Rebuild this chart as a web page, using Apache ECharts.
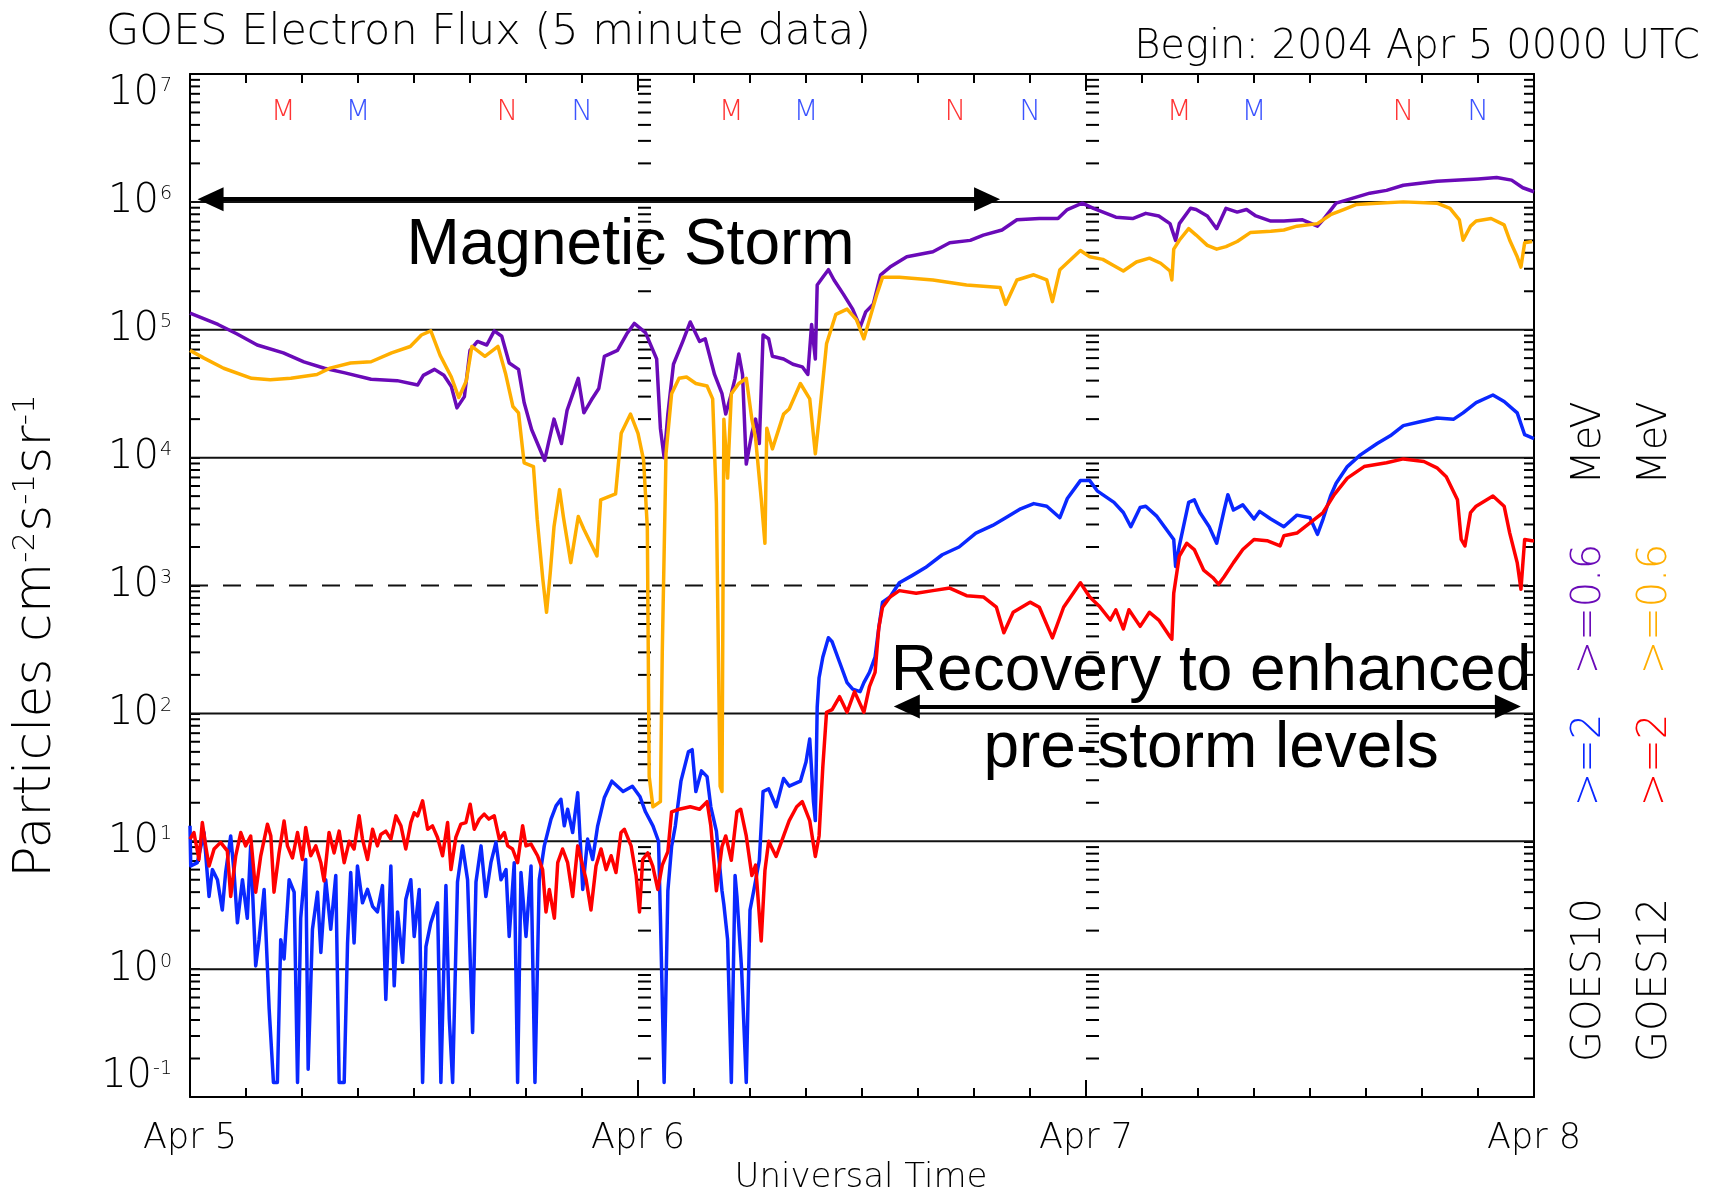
<!DOCTYPE html>
<html>
<head>
<meta charset="utf-8">
<title>GOES Electron Flux</title>
<script src="https://cdn.jsdelivr.net/npm/echarts@6/dist/echarts.min.js"></script>
<style>
  html, body { margin: 0; padding: 0; background: #ffffff; }
  #chart { width: 1714px; height: 1192px; }
</style>
</head>
<body>
<div id="chart"></div>
<script>
// ---- Data: [hours since 2004-04-05 00:00 UTC, particles cm^-2 s^-1 sr^-1] ----

// GOES10 >=2 MeV
const goes10Hi = [[0,13.2],[0.04,6.4],[0.39,6.8],[0.75,11.7],[1.02,3.7],[1.2,6.0],[1.47,5.0],[1.73,2.9],[1.91,5.7],[2.18,11.0],[2.36,5.7],[2.54,2.3],[2.81,5.0],[3.07,2.5],[3.25,9.2],[3.52,1.06],[3.7,1.7],[3.97,4.2],[4.24,0.49],[4.47,0.13],[4.68,0.13],[4.86,1.7],[5.04,1.2],[5.31,5.0],[5.58,4.0],[5.76,0.13],[5.93,2.5],[6.2,7.2],[6.33,0.165],[6.56,2.05],[6.83,4.0],[7.01,1.35],[7.27,5.0],[7.54,2.05],[7.81,5.4],[7.99,0.13],[8.26,0.13],[8.44,1.6],[8.61,5.7],[8.79,1.6],[8.97,6.4],[9.24,3.3],[9.51,4.2],[9.78,3.1],[10.04,2.8],[10.31,4.5],[10.49,0.58],[10.76,6.4],[10.94,0.74],[11.12,2.8],[11.39,1.13],[11.56,3.5],[11.83,5.0],[12.01,1.8],[12.28,4.2],[12.46,0.13],[12.64,1.5],[12.9,2.3],[13.26,3.3],[13.44,0.13],[13.71,4.5],[13.89,0.41],[14.07,0.13],[14.33,4.8],[14.6,9.2],[14.87,5.0],[15.14,0.32],[15.32,4.8],[15.59,9.2],[15.85,3.7],[16.12,6.8],[16.39,9.8],[16.66,5.0],[16.93,6.0],[17.1,1.8],[17.37,6.8],[17.55,0.13],[17.73,5.7],[18.0,1.8],[18.27,6.4],[18.48,0.13],[18.71,5.0],[18.98,9.2],[19.34,14.9],[19.61,18.9],[19.87,21.3],[20.05,13.2],[20.23,17.8],[20.5,11.7],[20.77,24],[21.04,4.2],[21.3,10.4],[21.57,7.2],[21.84,13.2],[22.2,22],[22.6,29.5],[23.2,24.5],[23.7,26.9],[24.1,22.4],[24.4,17],[24.8,13.2],[25.1,10],[25.2,2.6],[25.4,0.13],[25.6,4.1],[25.8,9.1],[26.0,13.2],[26.3,29.5],[26.7,50],[26.9,52],[27.1,24.5],[27.4,35.5],[27.7,32],[27.9,18.6],[28.2,12],[28.5,4.1],[28.6,3.2],[28.8,1.7],[29.0,0.13],[29.2,5.4],[29.3,3.7],[29.55,1.0],[29.8,0.13],[30.0,2.9],[30.2,4.1],[30.5,7.1],[30.7,24.5],[31.0,25.7],[31.4,18.6],[31.8,31],[32.1,27],[32.7,29.5],[33.0,41.7],[33.2,63],[33.4,20.4],[33.5,14.5],[33.6,112],[33.7,190],[33.9,275],[34.2,390],[34.4,363],[34.8,251],[35.2,174],[35.5,155],[35.9,148],[36.1,174],[36.4,209],[36.7,275],[36.9,468],[37.1,741],[37.5,813],[38.0,1050],[38.7,1200],[39.4,1380],[40.3,1740],[41.2,2000],[42.1,2570],[43.0,2950],[43.7,3390],[44.5,3980],[45.2,4370],[45.9,4170],[46.6,3390],[47.0,4790],[47.7,6610],[48.2,6610],[48.6,5500],[49.5,4470],[50.0,3720],[50.4,2880],[50.9,4070],[51.2,4170],[51.8,3470],[52.3,2750],[52.7,2290],[52.8,1410],[53.0,2040],[53.5,4470],[53.8,4680],[54.1,3720],[54.6,2880],[55.0,2140],[55.4,3890],[55.6,5130],[55.9,3890],[56.4,4270],[57.0,3310],[57.3,3800],[57.9,3310],[58.6,2880],[59.3,3550],[60.0,3390],[60.4,2510],[60.7,3310],[61.1,5010],[61.4,6310],[62.0,8510],[62.7,10500],[63.6,12900],[64.3,14800],[65.0,17800],[65.9,19100],[66.8,20400],[67.7,20000],[68.2,22400],[68.9,26900],[69.8,30900],[70.4,27500],[71.1,22400],[71.5,15100],[72,14100]];

// GOES12 >=2 MeV
const goes12Hi = [[0,10.4],[0.21,11.7],[0.48,7.2],[0.66,14.0],[0.84,9.2],[1.02,6.4],[1.29,8.7],[1.64,9.8],[2.0,8.4],[2.18,3.7],[2.45,7.7],[2.72,11.7],[2.98,9.2],[3.25,11.0],[3.52,4.0],[3.79,7.7],[4.15,13.6],[4.33,11.0],[4.5,4.0],[4.77,8.1],[5.04,14.4],[5.22,9.2],[5.49,7.4],[5.76,11.7],[6.02,7.2],[6.2,12.8],[6.47,7.7],[6.74,9.2],[7.01,6.8],[7.18,4.9],[7.45,11.7],[7.72,8.1],[7.99,12.0],[8.26,6.8],[8.53,10.0],[8.79,8.7],[9.06,15.8],[9.24,10.4],[9.51,7.2],[9.78,12.4],[10.04,9.2],[10.22,11.3],[10.49,12.0],[10.76,10.4],[11.03,15.8],[11.3,13.2],[11.56,8.7],[11.83,14.0],[12.01,16.7],[12.19,15.8],[12.46,20.7],[12.73,12.4],[12.99,13.2],[13.26,10.7],[13.53,7.7],[13.8,14.0],[13.98,6.0],[14.24,10.7],[14.51,13.6],[14.78,14.0],[15.01,19.5],[15.23,12.4],[15.5,14.9],[15.76,16.3],[16.01,14.9],[16.3,15.8],[16.57,10.4],[16.84,11.7],[17.02,9.2],[17.28,8.7],[17.55,6.8],[17.82,13.2],[18.0,9.2],[18.27,9.5],[18.62,7.7],[18.89,6.0],[19.07,2.8],[19.25,4.2],[19.52,2.5],[19.7,6.8],[19.96,8.7],[20.23,6.8],[20.5,3.7],[20.77,9.2],[21.04,6.4],[21.22,5.0],[21.48,2.9],[21.75,6.4],[22.02,8.7],[22.29,6.0],[22.56,7.7],[22.82,5.7],[23.09,11.7],[23.27,12.4],[23.63,9.2],[23.9,5.4],[24.08,2.8],[24.25,7.2],[24.52,8.1],[24.79,6.4],[25.06,4.2],[25.3,6.5],[25.6,8.3],[25.8,17],[26.2,17.8],[26.8,18.6],[27.3,17.8],[27.7,20.4],[27.9,13.2],[28.2,4.1],[28.5,9.1],[28.7,11],[29.0,7.1],[29.3,17],[29.5,17.8],[29.8,11],[30.1,5.4],[30.3,6.5],[30.6,1.66],[30.8,5.9],[31.0,10],[31.4,7.6],[31.8,11],[32.1,14.5],[32.5,18.6],[32.8,20.4],[33.2,14.5],[33.5,7.6],[33.7,11],[33.9,38],[34.1,102],[34.4,107],[34.8,135],[35.2,102],[35.6,148],[36.1,102],[36.4,162],[36.7,209],[36.9,468],[37.1,676],[37.5,813],[38.0,912],[38.9,871],[39.8,912],[40.7,955],[41.6,832],[42.5,813],[43.2,676],[43.6,427],[44.1,617],[45.0,741],[45.5,676],[46.2,389],[46.8,676],[47.7,1050],[48.2,813],[48.7,692],[49.3,537],[49.6,646],[50.0,457],[50.3,646],[50.9,479],[51.4,617],[51.9,537],[52.5,398],[52.6,380],[52.7,871],[53.0,1700],[53.4,2140],[53.8,1910],[54.3,1320],[54.8,1150],[55.1,1020],[55.4,1170],[55.9,1510],[56.4,1910],[57.0,2290],[57.7,2240],[58.4,2040],[58.6,2450],[59.3,2570],[60.0,3090],[60.7,3720],[61.3,5130],[62.0,6920],[62.9,8510],[64.1,9120],[65.0,9770],[66.1,9330],[66.8,8320],[67.3,7080],[67.9,4680],[68.1,2290],[68.3,2040],[68.6,3720],[68.9,4170],[69.8,5010],[70.4,4170],[70.7,2570],[71.1,1510],[71.3,933],[71.5,2290],[71.9,2240],[72,2240]];

// GOES10 >=0.6 MeV
const goes10Lo = [[0,135000],[1.5,110000],[2.5,93000],[3.6,76000],[5.0,66000],[6.1,56000],[7.2,50000],[8.3,46000],[9.7,41000],[11.1,40000],[12.2,37000],[12.5,44000],[13.1,49000],[13.6,44000],[14.0,36000],[14.3,24500],[14.7,30000],[15.0,69000],[15.4,81000],[15.9,76000],[16.3,98000],[16.7,89000],[17.1,55000],[17.6,49000],[17.9,27000],[18.3,16600],[19.0,9500],[19.2,12900],[19.5,20000],[19.9,12900],[20.2,23400],[20.8,41700],[21.1,22400],[21.5,28200],[21.9,34700],[22.2,62000],[22.9,69000],[23.4,93000],[23.8,112000],[24.4,95000],[25.0,59000],[25.2,17000],[25.4,10000],[25.6,21900],[25.9,53700],[26.4,81000],[26.8,115000],[27.3,81000],[27.6,85000],[28.1,44700],[28.5,31600],[28.7,21900],[29.0,31600],[29.2,41700],[29.4,64600],[29.6,44700],[29.8,8900],[30.1,15500],[30.3,20000],[30.5,12900],[30.7,91000],[31.0,85000],[31.2,62000],[31.8,59000],[32.3,53700],[32.8,51300],[33.1,44700],[33.3,110000],[33.5,59000],[33.6,224000],[33.9,257000],[34.2,295000],[34.5,245000],[35.0,190000],[35.5,145000],[35.9,105000],[36.2,138000],[36.6,158000],[37.0,269000],[37.5,309000],[38.4,372000],[39.8,407000],[40.7,479000],[41.8,500000],[42.5,550000],[43.5,603000],[44.3,724000],[45.5,741000],[46.5,741000],[47.0,871000],[47.8,977000],[48.4,891000],[49.6,759000],[50.5,741000],[51.2,813000],[51.9,776000],[52.5,676000],[52.8,500000],[53.0,676000],[53.6,891000],[53.9,871000],[54.5,776000],[55.0,617000],[55.5,891000],[56.1,832000],[56.6,871000],[57.1,776000],[57.9,708000],[58.6,708000],[59.6,724000],[60.4,646000],[60.7,724000],[61.4,977000],[62.3,1070000],[63.2,1170000],[64.1,1230000],[65.0,1350000],[66.8,1450000],[68.0,1480000],[69.0,1510000],[70.0,1550000],[70.8,1480000],[71.4,1290000],[72,1200000]];

// GOES12 >=0.6 MeV
const goes12Lo = [[0,69000],[0.75,60000],[1.8,50000],[3.3,41700],[4.3,40700],[5.4,41700],[6.8,44700],[7.5,50100],[8.6,55000],[9.7,56200],[10.8,66000],[11.8,74000],[12.4,91000],[12.9,98000],[13.4,63000],[14.0,42700],[14.4,29500],[14.8,39800],[15.1,74000],[15.8,62000],[16.5,74000],[16.9,45700],[17.3,25100],[17.6,22400],[17.9,9100],[18.4,8500],[18.6,3300],[18.9,1120],[19.1,617],[19.3,1260],[19.5,2880],[19.8,5620],[20.0,3470],[20.4,1510],[20.8,3470],[21.1,2750],[21.8,1700],[22.0,4680],[22.8,5200],[23.1,15500],[23.6,21900],[24.0,15500],[24.3,9550],[24.5,2820],[24.6,32],[24.8,18.6],[25.2,20.4],[25.3,302],[25.5,10700],[25.8,31600],[26.2,41700],[26.6,42700],[27.1,38000],[27.7,36300],[28.0,28800],[28.2,4370],[28.4,27],[28.5,24.5],[28.6,20000],[28.8,6920],[29.0,31600],[29.4,38000],[29.8,41700],[30.1,20000],[30.3,14100],[30.6,4790],[30.8,2140],[30.9,17000],[31.2,11700],[31.8,21900],[32.1,24000],[32.7,38000],[33.2,28800],[33.5,10700],[33.7,20000],[34.1,77600],[34.6,132000],[35.2,145000],[35.7,120000],[36.1,85000],[36.4,120000],[36.8,190000],[37.1,257000],[38.0,257000],[39.8,245000],[41.6,224000],[43.4,214000],[43.7,158000],[44.3,245000],[45.2,269000],[45.9,245000],[46.2,166000],[46.6,295000],[47.7,417000],[48.2,372000],[48.9,355000],[49.5,316000],[50.0,288000],[50.7,339000],[51.4,363000],[52.0,331000],[52.5,288000],[52.6,245000],[52.7,427000],[53.0,501000],[53.5,617000],[53.9,550000],[54.5,457000],[55.0,427000],[55.5,447000],[56.1,490000],[56.8,575000],[57.9,589000],[58.6,603000],[59.3,646000],[60.4,676000],[61.1,794000],[61.8,871000],[62.5,955000],[63.6,977000],[65.0,1000000],[66.8,977000],[67.5,891000],[68.0,724000],[68.2,501000],[68.6,646000],[68.9,708000],[69.7,741000],[70.4,661000],[70.7,501000],[71.1,372000],[71.3,309000],[71.5,479000],[71.9,490000]];

// Local midnight (M) and noon (N) at each satellite's longitude, hours UT
const localTimeHours   = [5, 9, 17, 21, 29, 33, 41, 45, 53, 57, 65, 69];
const localTimeLetters = ['M','M','N','N','M','M','N','N','M','M','N','N'];
const localTimeSats    = ['GOES12','GOES10','GOES12','GOES10','GOES12','GOES10','GOES12','GOES10','GOES12','GOES10','GOES12','GOES10'];

// Axis labels
const dayLabels = ['Apr 5', 'Apr 6', 'Apr 7', 'Apr 8'];
const decadeLines = [1, 10, 100, 1000, 1e4, 1e5, 1e6];
const dashedDecade = 1000;

// ---- Styling ----
const COL = { g10hi: '#0a28ff', g12hi: '#ff0000', g10lo: '#6a0ab8', g12lo: '#ffae00' };
const satColor = { GOES10: '#0a28ff', GOES12: '#ff0000' };
const IDL_FONT = "'DejaVu Sans', sans-serif";
const IDL_WEIGHT = 200;
const ANNO_FONT = "'Liberation Sans', Arial, sans-serif";

// minor log ticks 2..9 within every decade of the axis
const minorTickValues = [];
for (let e = -1; e < 7; e++) {
  for (let m = 2; m <= 9; m++) minorTickValues.push(m * Math.pow(10, e));
}
const dayMarks = [24, 48];

const chart = echarts.init(document.getElementById('chart'), null, { renderer: 'canvas' });

const baseX = {
  type: 'value', min: 0, max: 72, interval: 24,
  axisLine: { show: true, onZero: false, lineStyle: { color: '#000', width: 2 } },
  axisTick: { show: true, inside: true, length: 17, lineStyle: { color: '#000', width: 2 } },
  minorTick: { show: true, splitNumber: 8, length: 9, lineStyle: { color: '#000', width: 2 } },
  splitLine: { show: false }, minorSplitLine: { show: false }
};
const baseY = {
  type: 'log', logBase: 10, min: 0.1, max: 1e7, splitNumber: 8,
  axisLine: { show: true, onZero: false, lineStyle: { color: '#000', width: 2 } },
  axisTick: { show: true, inside: true, length: 10, lineStyle: { color: '#000', width: 2 } },
  splitLine: { show: false }
};

function lineSeries(name, data, color, z) {
  return {
    name, type: 'line', data, xAxisIndex: 0, yAxisIndex: 0,
    showSymbol: false, symbol: 'none', animation: false, z,
    lineStyle: { color, width: 3.5, join: 'round' }, clip: true
  };
}

const option = {
  animation: false,
  backgroundColor: '#ffffff',
  grid: { left: 190, right: 180, top: 74, bottom: 95, containLabel: false },
  xAxis: [
    Object.assign({}, baseX, {
      position: 'bottom',
      axisLabel: {
        show: true, margin: 24, color: '#000', fontSize: 35,
        fontFamily: IDL_FONT, fontWeight: IDL_WEIGHT,
        formatter: v => dayLabels[Math.round(v / 24)]
      }
    }),
    Object.assign({}, baseX, { position: 'top', axisLabel: { show: false } })
  ],
  yAxis: [
    Object.assign({}, baseY, {
      position: 'left',
      axisLabel: {
        show: true, margin: 18,
        verticalAlignMinLabel: 'bottom', verticalAlignMaxLabel: 'top',
        formatter: v => '{b|10}{s|' + Math.round(Math.log10(v)) + '}',
        rich: {
          b: { fontSize: 40, fontFamily: IDL_FONT, fontWeight: IDL_WEIGHT, color: '#000' },
          s: { fontSize: 19, fontFamily: IDL_FONT, fontWeight: IDL_WEIGHT, color: '#000', verticalAlign: 'top', padding: [3, 0, 0, 1] }
        }
      }
    }),
    Object.assign({}, baseY, { position: 'right', axisLabel: { show: false } })
  ],
  series: [
    { // decade grid lines
      type: 'custom', silent: true, z: 1, animation: false,
      data: decadeLines.map(v => [0, v]),
      renderItem: (params, api) => {
        const v = api.value(1);
        const p0 = api.coord([0, v]), p1 = api.coord([72, v]);
        return {
          type: 'line',
          shape: { x1: p0[0], y1: p0[1], x2: p1[0], y2: p1[1] },
          style: { stroke: '#111', lineWidth: 2, lineDash: v === dashedDecade ? [18, 15] : null }
        };
      }
    },
    { // log minor ticks on both y axes and at the day boundaries
      type: 'custom', silent: true, z: 1, animation: false,
      data: minorTickValues.map(v => [0, v]),
      renderItem: (params, api) => {
        const v = api.value(1);
        const y = api.coord([0, v])[1];
        const xl = api.coord([0, v])[0], xr = api.coord([72, v])[0];
        const segs = [[xl, xl + 10], [xr - 10, xr]];
        dayMarks.forEach(d => { const x = api.coord([d, v])[0]; segs.push([x, x + 13]); });
        return {
          type: 'group',
          children: segs.map(s => ({
            type: 'line', shape: { x1: s[0], y1: y, x2: s[1], y2: y },
            style: { stroke: '#000', lineWidth: 2 }
          }))
        };
      }
    },
    lineSeries('GOES10 >=2 MeV', goes10Hi, COL.g10hi, 3),
    lineSeries('GOES12 >=2 MeV', goes12Hi, COL.g12hi, 4),
    lineSeries('GOES10 >=0.6 MeV', goes10Lo, COL.g10lo, 5),
    lineSeries('GOES12 >=0.6 MeV', goes12Lo, COL.g12lo, 6),
    { // local midnight / noon markers and the annotation arrows
      type: 'scatter', z: 10, animation: false, silent: true,
      symbolSize: 0,
      data: localTimeHours.map((h, i) => ({
        value: [h, 5e6],
        label: {
          show: true, position: 'inside', formatter: localTimeLetters[i],
          color: satColor[localTimeSats[i]], fontSize: 29,
          fontFamily: IDL_FONT, fontWeight: IDL_WEIGHT
        }
      })),
      markLine: {
        silent: true, animation: false,
        symbol: ['triangle', 'triangle'], symbolSize: [24, 26],
        label: { show: false },
        lineStyle: { color: '#000', width: 4, type: 'solid' },
        itemStyle: { color: '#000' },
        emphasis: { disabled: true },
        data: [
          [{ coord: [1.1, 1.05e6] }, { coord: [42.7, 1.05e6] }],
          [{ coord: [38.4, 113] }, { coord: [70.6, 113] }]
        ]
      }
    }
  ]
};

chart.setOption(option);

// Text that sits in data space, placed through the axes
function px(h, v) { return chart.convertToPixel({ gridIndex: 0 }, [h, v]); }
const storm = px(23.6, 4.5e5);
const rec1 = px(54.7, 210);
const rec2 = px(54.7, 52);

function sideText(x, y, text, color) {
  return {
    type: 'text', x, y, rotation: Math.PI / 2, z: 20,
    style: {
      text, fill: color, fontSize: 40, fontFamily: IDL_FONT, fontWeight: IDL_WEIGHT,
      align: 'center', verticalAlign: 'middle'
    }
  };
}

chart.setOption({
  graphic: [
    { type: 'text', x: 106, y: 33, z: 20,
      style: { text: 'GOES Electron Flux (5 minute data)', fill: '#000', fontSize: 43,
        fontFamily: IDL_FONT, fontWeight: IDL_WEIGHT, align: 'left', verticalAlign: 'middle' } },
    { type: 'text', x: 1700, y: 48, z: 20,
      style: { text: 'Begin: 2004 Apr 5 0000 UTC', fill: '#000', fontSize: 40,
        fontFamily: IDL_FONT, fontWeight: IDL_WEIGHT, align: 'right', verticalAlign: 'middle' } },
    { type: 'text', x: 861, y: 1178, z: 20,
      style: { text: 'Universal Time', fill: '#000', fontSize: 34,
        fontFamily: IDL_FONT, fontWeight: IDL_WEIGHT, align: 'center', verticalAlign: 'middle' } },
    { type: 'text', x: 36, y: 636, rotation: Math.PI / 2, z: 20,
      style: {
        text: '{m|Particles cm}{s|-2}{m|s}{s|-1}{m|sr}{s|-1}',
        align: 'center', verticalAlign: 'middle',
        rich: {
          m: { fontSize: 52, fontFamily: IDL_FONT, fontWeight: IDL_WEIGHT, fill: '#000', color: '#000' },
          s: { fontSize: 31, fontFamily: IDL_FONT, fontWeight: IDL_WEIGHT, fill: '#000', color: '#000', verticalAlign: 'top' }
        }
      } },
    sideText(1590, 980, 'GOES10', '#000'),
    sideText(1590, 760, '>=2', COL.g10hi),
    sideText(1590, 609, '>=0.6', COL.g10lo),
    sideText(1590, 443, 'MeV', '#000'),
    sideText(1656, 980, 'GOES12', '#000'),
    sideText(1656, 760, '>=2', COL.g12hi),
    sideText(1656, 609, '>=0.6', COL.g12lo),
    sideText(1656, 443, 'MeV', '#000'),
    { type: 'text', x: storm[0], y: storm[1], z: 30,
      style: { text: 'Magnetic Storm', fill: '#000', fontSize: 64, fontFamily: ANNO_FONT,
        align: 'center', verticalAlign: 'middle' } },
    { type: 'text', x: rec1[0], y: rec1[1], z: 30,
      style: { text: 'Recovery to enhanced', fill: '#000', fontSize: 64, fontFamily: ANNO_FONT,
        align: 'center', verticalAlign: 'middle' } },
    { type: 'text', x: rec2[0], y: rec2[1], z: 30,
      style: { text: 'pre-storm levels', fill: '#000', fontSize: 64, fontFamily: ANNO_FONT,
        align: 'center', verticalAlign: 'middle' } }
  ]
});
</script>
</body>
</html>
